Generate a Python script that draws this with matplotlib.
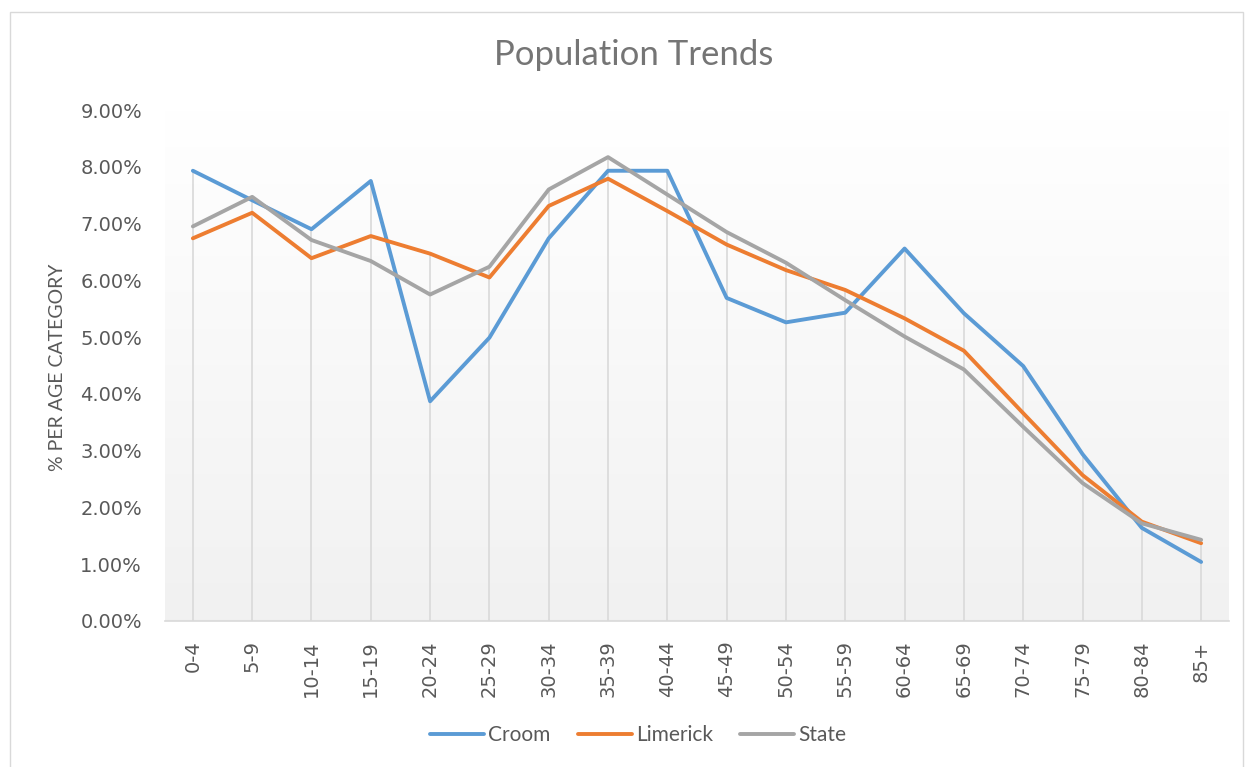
import matplotlib
matplotlib.use("Agg")
import matplotlib.pyplot as plt
import numpy as np
from matplotlib.patches import Rectangle

categories = ["0-4", "5-9", "10-14", "15-19", "20-24", "25-29", "30-34", "35-39", "40-44",
              "45-49", "50-54", "55-59", "60-64", "65-69", "70-74", "75-79", "80-84", "85+"]
croom = [7.93, 7.41, 6.90, 7.75, 3.87, 4.99, 6.74, 7.93, 7.93,
         5.69, 5.26, 5.43, 6.56, 5.42, 4.49, 2.94, 1.64, 1.04]
limerick = [6.74, 7.19, 6.39, 6.78, 6.47, 6.05, 7.31, 7.79, 7.22,
            6.63, 6.18, 5.83, 5.33, 4.76, 3.66, 2.57, 1.75, 1.37]
state = [6.95, 7.47, 6.71, 6.34, 5.75, 6.24, 7.60, 8.17, 7.51,
         6.85, 6.31, 5.65, 5.01, 4.43, 3.42, 2.43, 1.72, 1.43]
series_names = ["Croom", "Limerick", "State"]
yticks = [0, 1, 2, 3, 4, 5, 6, 7, 8, 9]

W, H = 1245, 767
fig = plt.figure(figsize=(W / 100, H / 100), dpi=100)
fig.patch.set_facecolor("white")

# outer border
fig.patches.append(Rectangle((10 / W, 0 - 0.01), (W - 12) / W, (H - 12) / H + 0.01,
                             transform=fig.transFigure, fill=False,
                             edgecolor="#d9d9d9", linewidth=1.0))

left, right, top, bottom = 165, 1229, 110, 621
ax = fig.add_axes([left / W, (H - bottom) / H, (right - left) / W, (bottom - top) / H])

n = len(categories)
x = np.arange(n)
ax.set_xlim(-0.47, n - 0.53)
ax.set_ylim(0, 9)

# gradient background
grad = np.linspace(1, 0, 256).reshape(-1, 1)
top_c = np.array([1.0, 1.0, 1.0])
bot_c = np.array([0.945, 0.945, 0.945])
img = bot_c + (top_c - bot_c) * grad[..., None]
ax.imshow(img, extent=[-0.47, n - 0.53, 0, 9], aspect="auto", zorder=0, origin="upper")
ax.set_ylim(0, 9)

# drop lines
mx = np.maximum(np.maximum(croom, limerick), state)
ax.vlines(x, 0, mx, colors="#d9d9d9", linewidth=1.2, zorder=1)

colors = ["#5b9bd5", "#ed7d31", "#a5a5a5"]
for vals, name, c in zip([croom, limerick, state], series_names, colors):
    ax.plot(x, vals, color=c, linewidth=2.8, label=name, zorder=3,
            solid_joinstyle="round", solid_capstyle="round")

for s in ["top", "right", "left"]:
    ax.spines[s].set_visible(False)
ax.spines["bottom"].set_color("#d9d9d9")
ax.spines["bottom"].set_linewidth(1.2)

ax.set_yticks(yticks)
ax.set_yticklabels([f"{v:.2f}%" for v in yticks], fontsize=14, color="#595959",
                   family="DejaVu Sans")
ax.set_xticks(x)
ax.set_xticklabels(categories, rotation=90, fontsize=14, color="#595959",
                   family="DejaVu Sans")
ax.tick_params(axis="both", length=0)
ax.tick_params(axis="y", pad=16.5)
ax.tick_params(axis="x", pad=14)

fig.text(58 / W, 1 - 367 / H, "% PER AGE CATEGORY", rotation=90, ha="center", va="center",
         fontsize=14, color="#595959", family="Lato")
fig.text(634 / W, 1 - 55 / H, "Population Trends", ha="center", va="center",
         fontsize=25, color="#757575", family="Lato")

leg = fig.legend(loc="center", bbox_to_anchor=(638 / W, 1 - 735 / H), ncol=3, frameon=False,
                 prop={"family": "Lato", "size": 15}, handlelength=2.6, columnspacing=1.3,
                 handletextpad=0.2)
for t in leg.get_texts():
    t.set_color("#595959")

fig.savefig("out.png", dpi=100)
